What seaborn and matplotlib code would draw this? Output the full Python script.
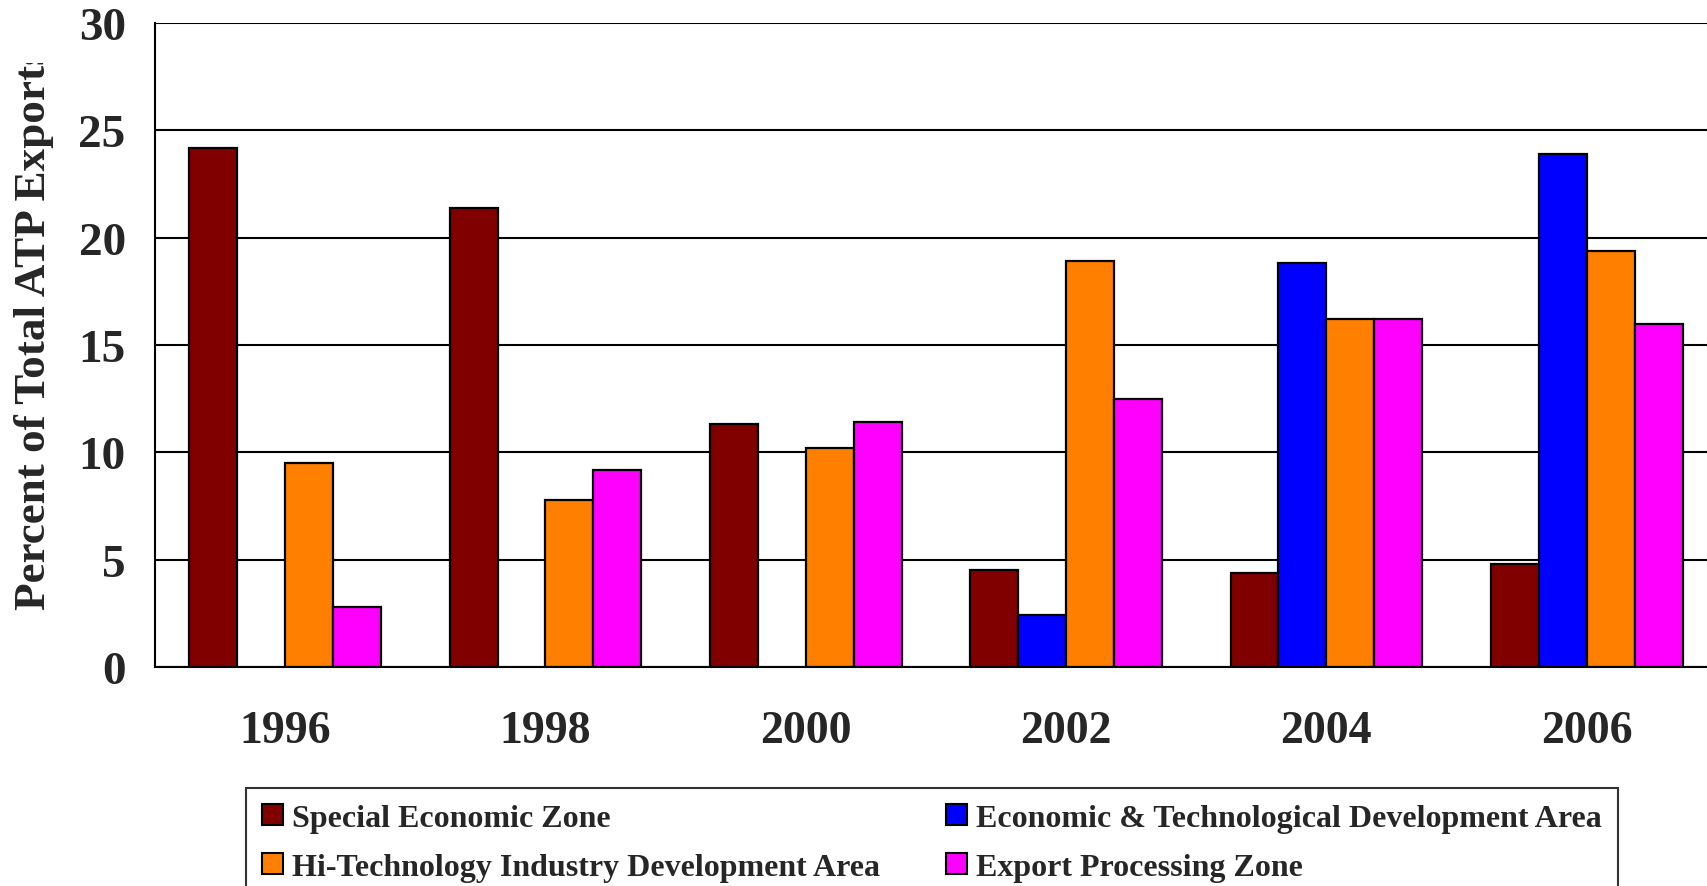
import pandas as pd
import numpy as np
import seaborn as sns
import matplotlib.pyplot as plt
from matplotlib.patches import Patch
from matplotlib.transforms import Bbox

years = ['1996', '1998', '2000', '2002', '2004', '2006']
zones = ['Special Economic Zone',
         'Economic & Technological Development Area',
         'Hi-Technology Industry Development Area',
         'Export Processing Zone']
colors = ['#800000', '#0000FF', '#FF8000', '#FF00FF']

sez = [24.2, 21.4, 11.3, 4.5, 4.4, 4.8]
etda = [None, None, None, 2.4, 18.8, 23.9]
htida = [9.5, 7.8, 10.2, 18.9, 16.2, 19.4]
epz = [2.8, 9.2, 11.4, 12.5, 16.2, 16.0]

rows = []
for name, vals in zip(zones, [sez, etda, htida, epz]):
    for y, v in zip(years, vals):
        if v is not None:
            rows.append({'year': y, 'zone': name, 'pct': v})
df = pd.DataFrame(rows)

sns.set_style('white')
plt.rcParams['font.family'] = ['Liberation Serif', 'DejaVu Serif']
plt.rcParams['font.weight'] = 'bold'

fig = plt.figure(figsize=(17.08, 8.87), dpi=100)
ax = fig.add_axes([0.0907, 0.2469, 0.9145, 0.726])

sns.barplot(data=df, x='year', y='pct', hue='zone', order=years,
            hue_order=zones, palette=colors, saturation=1, width=0.736,
            edgecolor='black', linewidth=1.6, ax=ax, legend=False)

ax.set_ylim(0, 30)
ax.set_xlim(-0.5, 5.5)
ax.set_yticks(range(0, 31, 5))
ax.yaxis.grid(True, color='black', linewidth=1.5)
ax.set_axisbelow(True)
for s in ['top', 'right']:
    ax.spines[s].set_visible(False)
for s in ['left', 'bottom']:
    ax.spines[s].set_color('black')
    ax.spines[s].set_linewidth(1.5)

ax.set_xticks(np.arange(-0.5, 6, 1), minor=True)
ax.tick_params(axis='x', which='minor', length=11, width=1.5, direction='out', color='black')
ax.tick_params(axis='x', which='major', length=0, pad=31, labelsize=33)
ax.tick_params(axis='y', length=11, width=1.5, direction='out', color='black', pad=10, labelsize=34)
for lab in ax.get_xticklabels() + ax.get_yticklabels():
    lab.set_fontweight('bold')
ax.set_xlabel('')
ax.set_ylabel('')

# in the original the label box is too short and the last letter gets cut
ylab = fig.text(0.02, 0.312, 'Percent of Total ATP Exports', rotation=90,
                ha='center', va='bottom', fontsize=32.5, fontweight='bold')
ylab.set_clip_box(Bbox.from_extents(0, 0, 200, 887 - 64))
ylab.set_clip_on(True)

# legend fills column-wise, so order for row-wise look
leg_order = [0, 2, 1, 3]
handles = [Patch(facecolor=colors[i], edgecolor='black', linewidth=1.5) for i in leg_order]
labels = [zones[i] for i in leg_order]
leg = fig.legend(handles, labels, loc='upper left',
                 bbox_to_anchor=(246 / 1708, 1 - 789 / 887), ncols=2,
                 frameon=True, fancybox=False, edgecolor='black',
                 prop={'size': 23, 'weight': 'bold'}, handlelength=0.65,
                 handleheight=0.65, handletextpad=0.3, columnspacing=2.05,
                 borderaxespad=0, labelspacing=0.62, borderpad=0.5)
leg.get_frame().set_linewidth(1.5)

fig.savefig('out.png', dpi=100)
